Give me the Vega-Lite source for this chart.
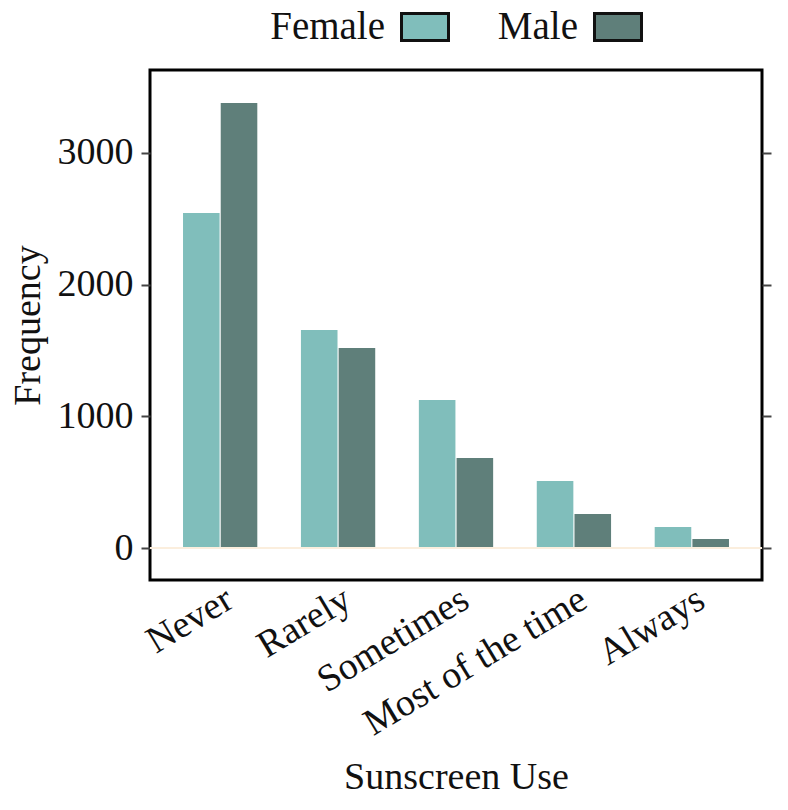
{
  "$schema": "https://vega.github.io/schema/vega-lite/v6.json",
  "width": 612,
  "height": 510,
  "autosize": {"type": "none"},
  "padding": {"left": 150, "top": 70, "right": 26, "bottom": 230},
  "background": "white",
  "config": {
    "view": {"stroke": "#000", "strokeWidth": 3},
    "font": "Liberation Serif"
  },
  "data": {
    "values": [
      {"use": "Never", "sex": "Female", "freq": 2544},
      {"use": "Never", "sex": "Male", "freq": 3379},
      {"use": "Rarely", "sex": "Female", "freq": 1655},
      {"use": "Rarely", "sex": "Male", "freq": 1519},
      {"use": "Sometimes", "sex": "Female", "freq": 1124},
      {"use": "Sometimes", "sex": "Male", "freq": 684},
      {"use": "Most of the time", "sex": "Female", "freq": 509},
      {"use": "Most of the time", "sex": "Male", "freq": 258},
      {"use": "Always", "sex": "Female", "freq": 159},
      {"use": "Always", "sex": "Male", "freq": 68}
    ]
  },
  "layer": [
    {
      "mark": {"type": "bar"},
      "encoding": {
        "x": {
          "field": "use",
          "type": "nominal",
          "sort": ["Never", "Rarely", "Sometimes", "Most of the time", "Always"],
          "scale": {"paddingInner": 0.37, "paddingOuter": 0.28},
          "axis": {
            "title": "Sunscreen Use",
            "titleFontSize": 38,
            "titleFontWeight": "normal",
            "titleColor": "#111",
            "labelFontSize": 38,
            "labelColor": "#111",
            "labelAngle": -31,
            "labelAlign": "right",
            "labelBaseline": "top",
            "labelPadding": 0,
            "labelLimit": 0,
            "domain": false,
            "ticks": false,
            "titlePadding": 16
          }
        },
        "xOffset": {
          "field": "sex",
          "type": "nominal",
          "sort": ["Female", "Male"],
          "scale": {"paddingInner": 0.03}
        },
        "y": {
          "field": "freq",
          "type": "quantitative",
          "scale": {"domain": [-243, 3630], "nice": false, "zero": false},
          "axis": {
            "title": "Frequency",
            "titleFontSize": 38,
            "titleFontWeight": "normal",
            "titleColor": "#111",
            "labelFontSize": 38,
            "labelColor": "#111",
            "format": "d",
            "values": [0, 1000, 2000, 3000],
            "grid": false,
            "domain": false,
            "tickSize": 9,
            "tickWidth": 2,
            "tickColor": "#444",
            "labelPadding": 8,
            "titlePadding": 10
          }
        },
        "y2": {"datum": 0},
        "color": {
          "field": "sex",
          "type": "nominal",
          "scale": {"domain": ["Female", "Male"], "range": ["#80BEBB", "#5F7F7A"]},
          "legend": {
            "orient": "none",
            "legendX": 250,
            "legendY": -68,
            "direction": "horizontal",
            "title": null,
            "labelFontSize": 39,
            "labelColor": "#111",
            "symbolType": "M-1,-0.57L1,-0.57L1,0.57L-1,0.57Z",
            "symbolSize": 2209,
            "symbolStrokeColor": "#111",
            "symbolStrokeWidth": 3,
            "symbolOpacity": 1,
            "columnPadding": 42,
            "encode": {
              "labels": {"update": {"align": {"value": "right"}, "dx": {"value": -69}}}
            }
          }
        }
      }
    },
    {
      "mark": {"type": "rule", "color": "#fbeedd", "strokeWidth": 2},
      "encoding": {
        "y": {
          "datum": 0,
          "type": "quantitative",
          "axis": {
            "orient": "right",
            "title": null,
            "labels": false,
            "values": [0, 1000, 2000, 3000],
            "grid": false,
            "domain": false,
            "tickSize": 9,
            "tickWidth": 2,
            "tickColor": "#444"
          }
        }
      }
    }
  ],
  "resolve": {"axis": {"y": "independent"}}
}
